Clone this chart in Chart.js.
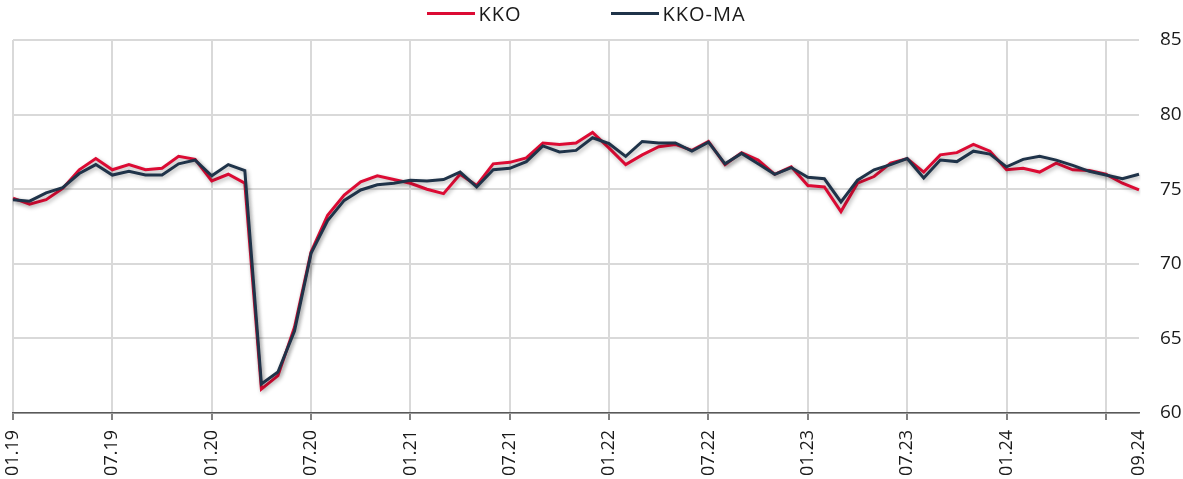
<!DOCTYPE html>
<html>
<head>
<meta charset="utf-8">
<script src="https://cdn.jsdelivr.net/npm/chart.js@4.4.1/dist/chart.umd.min.js"></script>
<style>
  html, body { margin: 0; padding: 0; background: #fff; }
  #wrap { position: relative; width: 1183px; height: 479px; }
  #legend { position: absolute; top: 0px; left: -5px; width: 100%; display: flex; justify-content: center;
            font-family: "Open Sans", sans-serif; font-size: 20px; letter-spacing: 1px; color: #1a1a1a; }
  #legend .item { display: flex; align-items: center; margin: 0 45px; }
  #legend .swatch { width: 48px; height: 3px; margin-right: 3px; }
</style>
</head>
<body>
<div id="wrap">
  <canvas id="myChart" width="1183" height="479"></canvas>
  <div id="legend"></div>
</div>
<script>
// DATA

var months = [];
for (var y = 19; y <= 24; y++) {
    for (var m = 1; m <= 12; m++) {
        if (y === 24 && m > 9) break;
        months.push((m < 10 ? '0' + m : '' + m) + '.' + y);
    }
}

var tickLabels = ['01.19', '07.19', '01.20', '07.20', '01.21', '07.21', '01.22',
                  '07.22', '01.23', '07.23', '01.24', '09.24'];

var kko = [
    74.4, 74.0, 74.3, 75.05, 76.3, 77.05, 76.3, 76.65, 76.3, 76.4, 77.2, 77.0,
    75.55, 76.0, 75.4, 61.6, 62.5, 65.75, 70.8, 73.25, 74.6, 75.5, 75.9, 75.65,
    75.4, 75.0, 74.7, 76.0, 75.25, 76.7, 76.8, 77.1, 78.1, 78.0, 78.1, 78.8,
    77.75, 76.65, 77.3, 77.85, 78.0, 77.6, 78.2, 76.65, 77.45, 76.95, 76.0, 76.5,
    75.25, 75.15, 73.5, 75.4, 75.85, 76.75, 77.05, 76.15, 77.3, 77.45, 78.0, 77.55,
    76.3, 76.4, 76.15, 76.75, 76.3, 76.25, 76.0, 75.4, 74.95
];

var kkoMa = [
    74.3, 74.2, 74.75, 75.1, 76.05, 76.65, 75.95, 76.2, 75.95, 75.95, 76.7, 76.95,
    75.9, 76.65, 76.25, 61.95, 62.75, 65.5, 70.7, 72.9, 74.25, 74.95, 75.3, 75.4,
    75.6, 75.55, 75.65, 76.15, 75.15, 76.3, 76.4, 76.85, 77.9, 77.5, 77.6, 78.45,
    78.05, 77.2, 78.2, 78.1, 78.1, 77.55, 78.15, 76.7, 77.4, 76.7, 76.0, 76.45,
    75.8, 75.7, 74.15, 75.6, 76.3, 76.65, 77.05, 75.75, 76.95, 76.85, 77.55, 77.35,
    76.5, 77.0, 77.2, 76.95, 76.6, 76.2, 75.95, 75.7, 76.0
];

var yTicks = [60, 65, 70, 75, 80, 85];

// CHART

var FONT = '"Open Sans", sans-serif';
var GRID = '#d9d9d9';

var shadowPlugin = {
    id: 'lineShadow',
    beforeDatasetsDraw: function (chart) {
        var c = chart.ctx;
        c.save();
        c.shadowColor = 'rgba(0,0,0,0.3)';
        c.shadowBlur = 4;
        c.shadowOffsetX = 1.5;
        c.shadowOffsetY = 2;
    },
    afterDatasetsDraw: function (chart) {
        chart.ctx.restore();
    }
};

var ctx = document.getElementById('myChart').getContext('2d');

var chart = new Chart(ctx, {
    type: 'line',
    data: {
        labels: months,
        datasets: [{
            label: 'KKO',
            data: kko,
            borderColor: '#dc0b34',
            backgroundColor: '#dc0b34',
            borderWidth: 3,
            pointRadius: 0,
            tension: 0,
            order: 1
        },
        {
            label: 'KKO-MA',
            data: kkoMa,
            borderColor: '#1f3349',
            backgroundColor: '#1f3349',
            borderWidth: 3,
            pointRadius: 0,
            tension: 0,
            order: 0
        }]
    },
    options: {
        responsive: false,
        animation: false,
        layout: { padding: { top: 40, left: 13, right: 0, bottom: 0 } },
        plugins: {
            legend: { display: false },
            tooltip: { enabled: false }
        },
        scales: {
            x: {
                afterFit: function (axis) {
                    axis.height = 66;
                    axis.paddingLeft = 0;
                    axis.paddingRight = 0;
                },
                grid: {
                    color: function (c) { return c.index % 6 === 0 ? GRID : 'transparent'; },
                    tickColor: function (c) { return c.index % 6 === 0 ? '#595959' : 'transparent'; },
                    lineWidth: 2,
                    tickLength: 7,
                    tickWidth: 1.5
                },
                border: { display: true, color: '#595959', width: 1.5 },
                ticks: {
                    autoSkip: false,
                    maxRotation: 90,
                    minRotation: 90,
                    padding: 10,
                    color: '#1a1a1a',
                    font: { family: FONT, size: 18 },
                    callback: function (v, i) {
                        var l = months[i];
                        return tickLabels.indexOf(l) >= 0 ? l : '';
                    }
                }
            },
            y: {
                position: 'right',
                min: 60,
                max: 85,
                afterBuildTicks: function (axis) {
                    axis.ticks = yTicks.map(function (v) { return { value: v }; });
                },
                afterFit: function (axis) {
                    axis.width = 44;
                    axis.paddingTop = 0;
                    axis.paddingBottom = 0;
                },
                grid: { color: GRID, lineWidth: 2, drawTicks: false },
                border: { display: false },
                ticks: {
                    padding: 21,
                    color: '#1a1a1a',
                    font: { family: FONT, size: 19 }
                }
            }
        }
    },
    plugins: [shadowPlugin]
});

// LEGEND

var legend = document.getElementById('legend');
chart.data.datasets.forEach(function (ds) {
    var item = document.createElement('div');
    item.className = 'item';
    var sw = document.createElement('span');
    sw.className = 'swatch';
    sw.style.background = ds.borderColor;
    var txt = document.createElement('span');
    txt.textContent = ds.label;
    item.appendChild(sw);
    item.appendChild(txt);
    legend.appendChild(item);
});
</script>
</body>
</html>
